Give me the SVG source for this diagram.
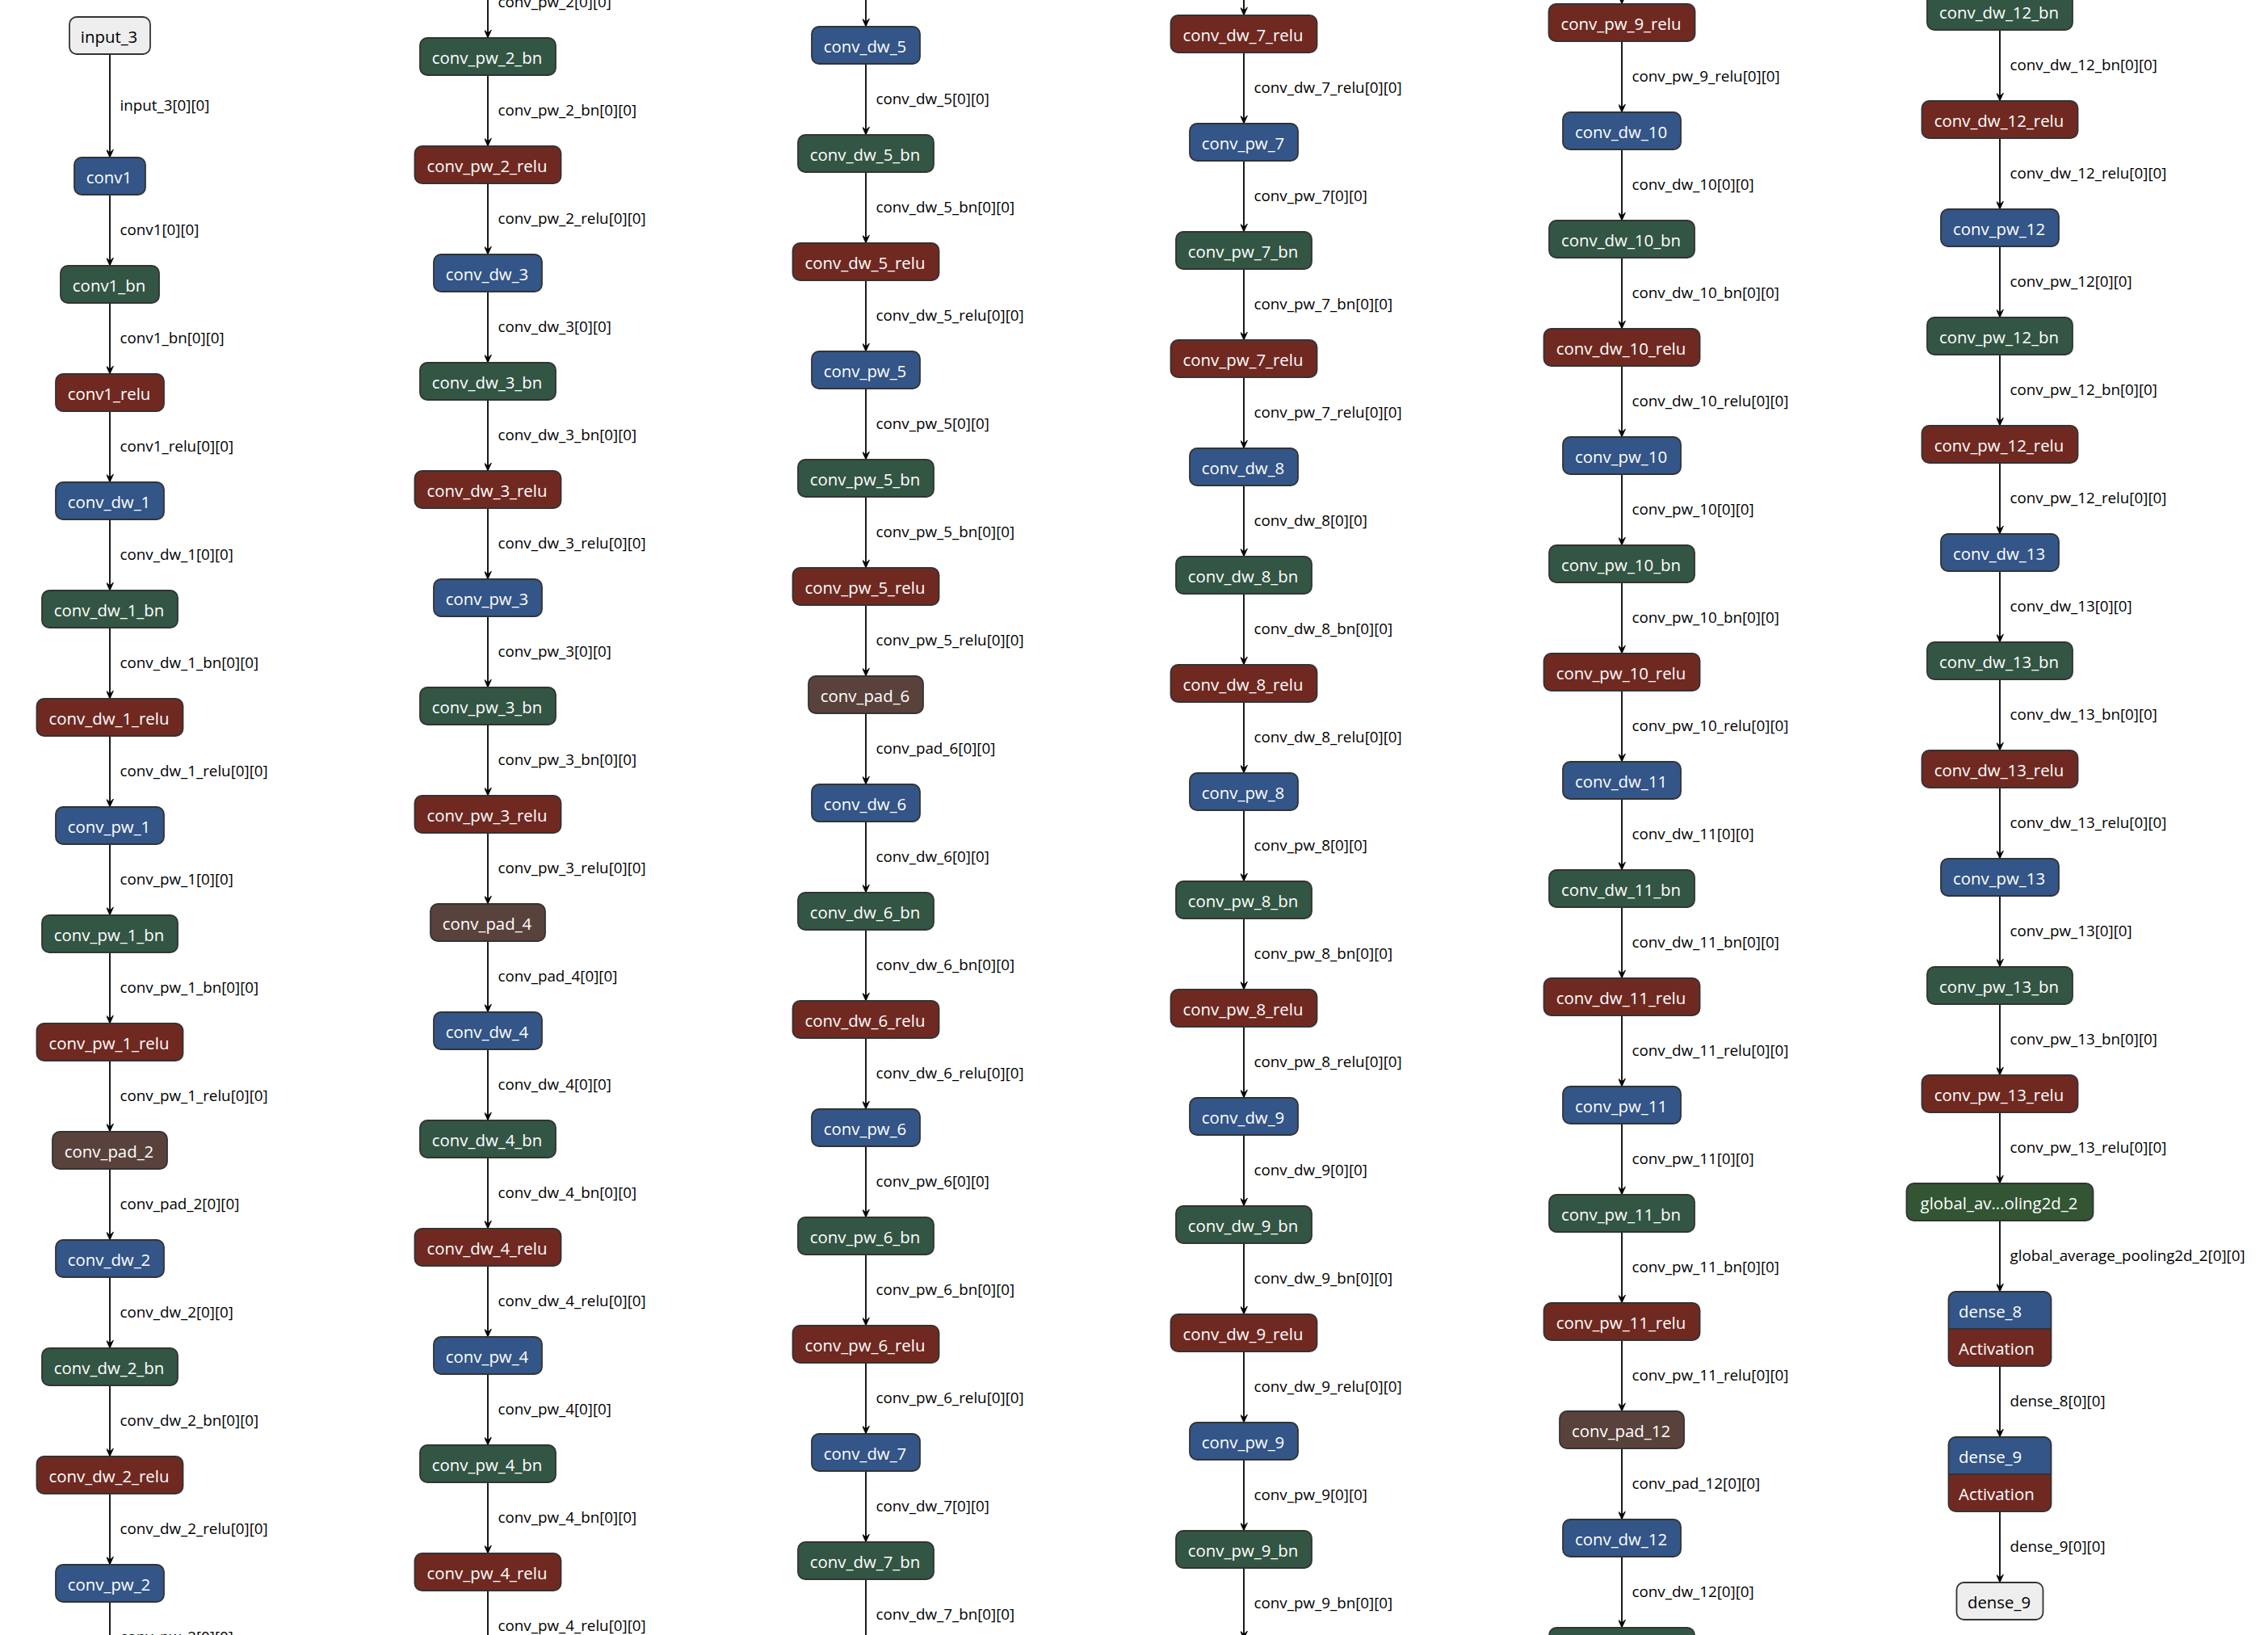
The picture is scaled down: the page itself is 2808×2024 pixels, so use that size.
<svg xmlns="http://www.w3.org/2000/svg" width="2808" height="2024" viewBox="0 0 2808 2024">
<style>
.bg{fill:#fff}
.e{stroke:#000;stroke-width:1.8;fill:none;marker-end:url(#ah)}
.el{font-family:"Open Sans","Noto Sans","Liberation Sans",sans-serif;font-size:18.8px;fill:#000}
.b{stroke:#333;stroke-width:1.8}
.bo{fill:none;stroke:#333;stroke-width:1.8}
.nt{font-family:"Open Sans","Noto Sans","Liberation Sans",sans-serif;font-size:20.4px;fill:#fff;text-anchor:middle}
.ntl{font-family:"Open Sans","Noto Sans","Liberation Sans",sans-serif;font-size:20.4px;fill:#fff}
.io-t{fill:#000}
.conv{fill:#335588}
.bn{fill:#335544}
.relu{fill:#702921}
.pad{fill:#59423b}
.pool{fill:#335533}
.io{fill:#eeeeee}
</style>
<defs>
<marker id="ah" markerUnits="userSpaceOnUse" viewBox="-10 -4.5 10 9" refX="0" refY="0" markerWidth="10" markerHeight="9" orient="auto">
<path d="M-10,-4.5 L0,0 L-10,4.5 L-6,0 Z" fill="#000" stroke="#000" stroke-width="0.8" stroke-linejoin="miter"/>
</marker>
</defs>
<rect class="bg" x="0" y="0" width="2808" height="2024"/>

<!-- connectors -->
<g id="edges">
<!-- column 1 -->
<line class="e" x1="136" y1="67" x2="136" y2="195"/><text class="el" x="148.5" y="137.3">input_3[0][0]</text>
<line class="e" x1="136" y1="241" x2="136" y2="329"/><text class="el" x="148.5" y="291.3">conv1[0][0]</text>
<line class="e" x1="136" y1="375" x2="136" y2="463"/><text class="el" x="148.5" y="425.3">conv1_bn[0][0]</text>
<line class="e" x1="136" y1="509" x2="136" y2="597"/><text class="el" x="148.5" y="559.3">conv1_relu[0][0]</text>
<line class="e" x1="136" y1="643" x2="136" y2="731"/><text class="el" x="148.5" y="693.3">conv_dw_1[0][0]</text>
<line class="e" x1="136" y1="777" x2="136" y2="865"/><text class="el" x="148.5" y="827.3">conv_dw_1_bn[0][0]</text>
<line class="e" x1="136" y1="911" x2="136" y2="999"/><text class="el" x="148.5" y="961.3">conv_dw_1_relu[0][0]</text>
<line class="e" x1="136" y1="1045" x2="136" y2="1133"/><text class="el" x="148.5" y="1095.3">conv_pw_1[0][0]</text>
<line class="e" x1="136" y1="1179" x2="136" y2="1267"/><text class="el" x="148.5" y="1229.3">conv_pw_1_bn[0][0]</text>
<line class="e" x1="136" y1="1313" x2="136" y2="1401"/><text class="el" x="148.5" y="1363.3">conv_pw_1_relu[0][0]</text>
<line class="e" x1="136" y1="1447" x2="136" y2="1535"/><text class="el" x="148.5" y="1497.3">conv_pad_2[0][0]</text>
<line class="e" x1="136" y1="1581" x2="136" y2="1669"/><text class="el" x="148.5" y="1631.3">conv_dw_2[0][0]</text>
<line class="e" x1="136" y1="1715" x2="136" y2="1803"/><text class="el" x="148.5" y="1765.3">conv_dw_2_bn[0][0]</text>
<line class="e" x1="136" y1="1849" x2="136" y2="1937"/><text class="el" x="148.5" y="1899.3">conv_dw_2_relu[0][0]</text>
<line class="e" x1="136" y1="1983" x2="136" y2="2071"/><text class="el" x="148.5" y="2033.3">conv_pw_2[0][0]</text>
<!-- column 2 -->
<line class="e" x1="604" y1="-41" x2="604" y2="47"/><text class="el" x="616.5" y="9.3">conv_pw_2[0][0]</text>
<line class="e" x1="604" y1="93" x2="604" y2="181"/><text class="el" x="616.5" y="143.3">conv_pw_2_bn[0][0]</text>
<line class="e" x1="604" y1="227" x2="604" y2="315"/><text class="el" x="616.5" y="277.3">conv_pw_2_relu[0][0]</text>
<line class="e" x1="604" y1="361" x2="604" y2="449"/><text class="el" x="616.5" y="411.3">conv_dw_3[0][0]</text>
<line class="e" x1="604" y1="495" x2="604" y2="583"/><text class="el" x="616.5" y="545.3">conv_dw_3_bn[0][0]</text>
<line class="e" x1="604" y1="629" x2="604" y2="717"/><text class="el" x="616.5" y="679.3">conv_dw_3_relu[0][0]</text>
<line class="e" x1="604" y1="763" x2="604" y2="851"/><text class="el" x="616.5" y="813.3">conv_pw_3[0][0]</text>
<line class="e" x1="604" y1="897" x2="604" y2="985"/><text class="el" x="616.5" y="947.3">conv_pw_3_bn[0][0]</text>
<line class="e" x1="604" y1="1031" x2="604" y2="1119"/><text class="el" x="616.5" y="1081.3">conv_pw_3_relu[0][0]</text>
<line class="e" x1="604" y1="1165" x2="604" y2="1253"/><text class="el" x="616.5" y="1215.3">conv_pad_4[0][0]</text>
<line class="e" x1="604" y1="1299" x2="604" y2="1387"/><text class="el" x="616.5" y="1349.3">conv_dw_4[0][0]</text>
<line class="e" x1="604" y1="1433" x2="604" y2="1521"/><text class="el" x="616.5" y="1483.3">conv_dw_4_bn[0][0]</text>
<line class="e" x1="604" y1="1567" x2="604" y2="1655"/><text class="el" x="616.5" y="1617.3">conv_dw_4_relu[0][0]</text>
<line class="e" x1="604" y1="1701" x2="604" y2="1789"/><text class="el" x="616.5" y="1751.3">conv_pw_4[0][0]</text>
<line class="e" x1="604" y1="1835" x2="604" y2="1923"/><text class="el" x="616.5" y="1885.3">conv_pw_4_bn[0][0]</text>
<line class="e" x1="604" y1="1969" x2="604" y2="2057"/><text class="el" x="616.5" y="2019.3">conv_pw_4_relu[0][0]</text>
<!-- column 3 -->
<line class="e" x1="1072" y1="-55" x2="1072" y2="33"/>
<line class="e" x1="1072" y1="79" x2="1072" y2="167"/><text class="el" x="1084.5" y="129.3">conv_dw_5[0][0]</text>
<line class="e" x1="1072" y1="213" x2="1072" y2="301"/><text class="el" x="1084.5" y="263.3">conv_dw_5_bn[0][0]</text>
<line class="e" x1="1072" y1="347" x2="1072" y2="435"/><text class="el" x="1084.5" y="397.3">conv_dw_5_relu[0][0]</text>
<line class="e" x1="1072" y1="481" x2="1072" y2="569"/><text class="el" x="1084.5" y="531.3">conv_pw_5[0][0]</text>
<line class="e" x1="1072" y1="615" x2="1072" y2="703"/><text class="el" x="1084.5" y="665.3">conv_pw_5_bn[0][0]</text>
<line class="e" x1="1072" y1="749" x2="1072" y2="837"/><text class="el" x="1084.5" y="799.3">conv_pw_5_relu[0][0]</text>
<line class="e" x1="1072" y1="883" x2="1072" y2="971"/><text class="el" x="1084.5" y="933.3">conv_pad_6[0][0]</text>
<line class="e" x1="1072" y1="1017" x2="1072" y2="1105"/><text class="el" x="1084.5" y="1067.3">conv_dw_6[0][0]</text>
<line class="e" x1="1072" y1="1151" x2="1072" y2="1239"/><text class="el" x="1084.5" y="1201.3">conv_dw_6_bn[0][0]</text>
<line class="e" x1="1072" y1="1285" x2="1072" y2="1373"/><text class="el" x="1084.5" y="1335.3">conv_dw_6_relu[0][0]</text>
<line class="e" x1="1072" y1="1419" x2="1072" y2="1507"/><text class="el" x="1084.5" y="1469.3">conv_pw_6[0][0]</text>
<line class="e" x1="1072" y1="1553" x2="1072" y2="1641"/><text class="el" x="1084.5" y="1603.3">conv_pw_6_bn[0][0]</text>
<line class="e" x1="1072" y1="1687" x2="1072" y2="1775"/><text class="el" x="1084.5" y="1737.3">conv_pw_6_relu[0][0]</text>
<line class="e" x1="1072" y1="1821" x2="1072" y2="1909"/><text class="el" x="1084.5" y="1871.3">conv_dw_7[0][0]</text>
<line class="e" x1="1072" y1="1955" x2="1072" y2="2043"/><text class="el" x="1084.5" y="2005.3">conv_dw_7_bn[0][0]</text>
<!-- column 4 -->
<line class="e" x1="1540" y1="-69" x2="1540" y2="19"/>
<line class="e" x1="1540" y1="65" x2="1540" y2="153"/><text class="el" x="1552.5" y="115.3">conv_dw_7_relu[0][0]</text>
<line class="e" x1="1540" y1="199" x2="1540" y2="287"/><text class="el" x="1552.5" y="249.3">conv_pw_7[0][0]</text>
<line class="e" x1="1540" y1="333" x2="1540" y2="421"/><text class="el" x="1552.5" y="383.3">conv_pw_7_bn[0][0]</text>
<line class="e" x1="1540" y1="467" x2="1540" y2="555"/><text class="el" x="1552.5" y="517.3">conv_pw_7_relu[0][0]</text>
<line class="e" x1="1540" y1="601" x2="1540" y2="689"/><text class="el" x="1552.5" y="651.3">conv_dw_8[0][0]</text>
<line class="e" x1="1540" y1="735" x2="1540" y2="823"/><text class="el" x="1552.5" y="785.3">conv_dw_8_bn[0][0]</text>
<line class="e" x1="1540" y1="869" x2="1540" y2="957"/><text class="el" x="1552.5" y="919.3">conv_dw_8_relu[0][0]</text>
<line class="e" x1="1540" y1="1003" x2="1540" y2="1091"/><text class="el" x="1552.5" y="1053.3">conv_pw_8[0][0]</text>
<line class="e" x1="1540" y1="1137" x2="1540" y2="1225"/><text class="el" x="1552.5" y="1187.3">conv_pw_8_bn[0][0]</text>
<line class="e" x1="1540" y1="1271" x2="1540" y2="1359"/><text class="el" x="1552.5" y="1321.3">conv_pw_8_relu[0][0]</text>
<line class="e" x1="1540" y1="1405" x2="1540" y2="1493"/><text class="el" x="1552.5" y="1455.3">conv_dw_9[0][0]</text>
<line class="e" x1="1540" y1="1539" x2="1540" y2="1627"/><text class="el" x="1552.5" y="1589.3">conv_dw_9_bn[0][0]</text>
<line class="e" x1="1540" y1="1673" x2="1540" y2="1761"/><text class="el" x="1552.5" y="1723.3">conv_dw_9_relu[0][0]</text>
<line class="e" x1="1540" y1="1807" x2="1540" y2="1895"/><text class="el" x="1552.5" y="1857.3">conv_pw_9[0][0]</text>
<line class="e" x1="1540" y1="1941" x2="1540" y2="2029"/><text class="el" x="1552.5" y="1991.3">conv_pw_9_bn[0][0]</text>
<!-- column 5 -->
<line class="e" x1="2008" y1="-83" x2="2008" y2="5"/>
<line class="e" x1="2008" y1="51" x2="2008" y2="139"/><text class="el" x="2020.5" y="101.3">conv_pw_9_relu[0][0]</text>
<line class="e" x1="2008" y1="185" x2="2008" y2="273"/><text class="el" x="2020.5" y="235.3">conv_dw_10[0][0]</text>
<line class="e" x1="2008" y1="319" x2="2008" y2="407"/><text class="el" x="2020.5" y="369.3">conv_dw_10_bn[0][0]</text>
<line class="e" x1="2008" y1="453" x2="2008" y2="541"/><text class="el" x="2020.5" y="503.3">conv_dw_10_relu[0][0]</text>
<line class="e" x1="2008" y1="587" x2="2008" y2="675"/><text class="el" x="2020.5" y="637.3">conv_pw_10[0][0]</text>
<line class="e" x1="2008" y1="721" x2="2008" y2="809"/><text class="el" x="2020.5" y="771.3">conv_pw_10_bn[0][0]</text>
<line class="e" x1="2008" y1="855" x2="2008" y2="943"/><text class="el" x="2020.5" y="905.3">conv_pw_10_relu[0][0]</text>
<line class="e" x1="2008" y1="989" x2="2008" y2="1077"/><text class="el" x="2020.5" y="1039.3">conv_dw_11[0][0]</text>
<line class="e" x1="2008" y1="1123" x2="2008" y2="1211"/><text class="el" x="2020.5" y="1173.3">conv_dw_11_bn[0][0]</text>
<line class="e" x1="2008" y1="1257" x2="2008" y2="1345"/><text class="el" x="2020.5" y="1307.3">conv_dw_11_relu[0][0]</text>
<line class="e" x1="2008" y1="1391" x2="2008" y2="1479"/><text class="el" x="2020.5" y="1441.3">conv_pw_11[0][0]</text>
<line class="e" x1="2008" y1="1525" x2="2008" y2="1613"/><text class="el" x="2020.5" y="1575.3">conv_pw_11_bn[0][0]</text>
<line class="e" x1="2008" y1="1659" x2="2008" y2="1747"/><text class="el" x="2020.5" y="1709.3">conv_pw_11_relu[0][0]</text>
<line class="e" x1="2008" y1="1793" x2="2008" y2="1881"/><text class="el" x="2020.5" y="1843.3">conv_pad_12[0][0]</text>
<line class="e" x1="2008" y1="1927" x2="2008" y2="2015"/><text class="el" x="2020.5" y="1977.3">conv_dw_12[0][0]</text>
<!-- column 6 -->
<line class="e" x1="2476" y1="37" x2="2476" y2="125"/><text class="el" x="2488.5" y="87.3">conv_dw_12_bn[0][0]</text>
<line class="e" x1="2476" y1="171" x2="2476" y2="259"/><text class="el" x="2488.5" y="221.3">conv_dw_12_relu[0][0]</text>
<line class="e" x1="2476" y1="305" x2="2476" y2="393"/><text class="el" x="2488.5" y="355.3">conv_pw_12[0][0]</text>
<line class="e" x1="2476" y1="439" x2="2476" y2="527"/><text class="el" x="2488.5" y="489.3">conv_pw_12_bn[0][0]</text>
<line class="e" x1="2476" y1="573" x2="2476" y2="661"/><text class="el" x="2488.5" y="623.3">conv_pw_12_relu[0][0]</text>
<line class="e" x1="2476" y1="707" x2="2476" y2="795"/><text class="el" x="2488.5" y="757.3">conv_dw_13[0][0]</text>
<line class="e" x1="2476" y1="841" x2="2476" y2="929"/><text class="el" x="2488.5" y="891.3">conv_dw_13_bn[0][0]</text>
<line class="e" x1="2476" y1="975" x2="2476" y2="1063"/><text class="el" x="2488.5" y="1025.3">conv_dw_13_relu[0][0]</text>
<line class="e" x1="2476" y1="1109" x2="2476" y2="1197"/><text class="el" x="2488.5" y="1159.3">conv_pw_13[0][0]</text>
<line class="e" x1="2476" y1="1243" x2="2476" y2="1331"/><text class="el" x="2488.5" y="1293.3">conv_pw_13_bn[0][0]</text>
<line class="e" x1="2476" y1="1377" x2="2476" y2="1465"/><text class="el" x="2488.5" y="1427.3">conv_pw_13_relu[0][0]</text>
<line class="e" x1="2476" y1="1511" x2="2476" y2="1599"/><text class="el" x="2488.5" y="1561.3">global_average_pooling2d_2[0][0]</text>
<line class="e" x1="2476" y1="1691" x2="2476" y2="1779"/><text class="el" x="2488.5" y="1741.3">dense_8[0][0]</text>
<line class="e" x1="2476" y1="1871" x2="2476" y2="1959"/><text class="el" x="2488.5" y="1921.3">dense_9[0][0]</text>
</g>

<!-- column 1 nodes -->
<g id="input_3"><rect class="b io" x="86" y="21" width="100" height="46" rx="9"/><text class="nt io-t" x="135" y="52.7">input_3</text></g>
<g id="conv1"><rect class="b conv" x="92" y="195" width="88" height="46" rx="9"/><text class="nt" x="135" y="226.7">conv1</text></g>
<g id="conv1_bn"><rect class="b bn" x="75" y="329" width="122" height="46" rx="9"/><text class="nt" x="135" y="360.7">conv1_bn</text></g>
<g id="conv1_relu"><rect class="b relu" x="69" y="463" width="134" height="46" rx="9"/><text class="nt" x="135" y="494.7">conv1_relu</text></g>
<g id="conv_dw_1"><rect class="b conv" x="69" y="597" width="134" height="46" rx="9"/><text class="nt" x="135" y="628.7">conv_dw_1</text></g>
<g id="conv_dw_1_bn"><rect class="b bn" x="52" y="731" width="168" height="46" rx="9"/><text class="nt" x="135" y="762.7">conv_dw_1_bn</text></g>
<g id="conv_dw_1_relu"><rect class="b relu" x="45.5" y="865" width="181" height="46" rx="9"/><text class="nt" x="135" y="896.7">conv_dw_1_relu</text></g>
<g id="conv_pw_1"><rect class="b conv" x="69" y="999" width="134" height="46" rx="9"/><text class="nt" x="135" y="1030.7">conv_pw_1</text></g>
<g id="conv_pw_1_bn"><rect class="b bn" x="52" y="1133" width="168" height="46" rx="9"/><text class="nt" x="135" y="1164.7">conv_pw_1_bn</text></g>
<g id="conv_pw_1_relu"><rect class="b relu" x="45.5" y="1267" width="181" height="46" rx="9"/><text class="nt" x="135" y="1298.7">conv_pw_1_relu</text></g>
<g id="conv_pad_2"><rect class="b pad" x="65" y="1401" width="142" height="46" rx="9"/><text class="nt" x="135" y="1432.7">conv_pad_2</text></g>
<g id="conv_dw_2"><rect class="b conv" x="69" y="1535" width="134" height="46" rx="9"/><text class="nt" x="135" y="1566.7">conv_dw_2</text></g>
<g id="conv_dw_2_bn"><rect class="b bn" x="52" y="1669" width="168" height="46" rx="9"/><text class="nt" x="135" y="1700.7">conv_dw_2_bn</text></g>
<g id="conv_dw_2_relu"><rect class="b relu" x="45.5" y="1803" width="181" height="46" rx="9"/><text class="nt" x="135" y="1834.7">conv_dw_2_relu</text></g>
<g id="conv_pw_2"><rect class="b conv" x="69" y="1937" width="134" height="46" rx="9"/><text class="nt" x="135" y="1968.7">conv_pw_2</text></g>

<!-- column 2 nodes -->
<g id="conv_pw_2_bn"><rect class="b bn" x="520" y="47" width="168" height="46" rx="9"/><text class="nt" x="603" y="78.7">conv_pw_2_bn</text></g>
<g id="conv_pw_2_relu"><rect class="b relu" x="513.5" y="181" width="181" height="46" rx="9"/><text class="nt" x="603" y="212.7">conv_pw_2_relu</text></g>
<g id="conv_dw_3"><rect class="b conv" x="537" y="315" width="134" height="46" rx="9"/><text class="nt" x="603" y="346.7">conv_dw_3</text></g>
<g id="conv_dw_3_bn"><rect class="b bn" x="520" y="449" width="168" height="46" rx="9"/><text class="nt" x="603" y="480.7">conv_dw_3_bn</text></g>
<g id="conv_dw_3_relu"><rect class="b relu" x="513.5" y="583" width="181" height="46" rx="9"/><text class="nt" x="603" y="614.7">conv_dw_3_relu</text></g>
<g id="conv_pw_3"><rect class="b conv" x="537" y="717" width="134" height="46" rx="9"/><text class="nt" x="603" y="748.7">conv_pw_3</text></g>
<g id="conv_pw_3_bn"><rect class="b bn" x="520" y="851" width="168" height="46" rx="9"/><text class="nt" x="603" y="882.7">conv_pw_3_bn</text></g>
<g id="conv_pw_3_relu"><rect class="b relu" x="513.5" y="985" width="181" height="46" rx="9"/><text class="nt" x="603" y="1016.7">conv_pw_3_relu</text></g>
<g id="conv_pad_4"><rect class="b pad" x="533" y="1119" width="142" height="46" rx="9"/><text class="nt" x="603" y="1150.7">conv_pad_4</text></g>
<g id="conv_dw_4"><rect class="b conv" x="537" y="1253" width="134" height="46" rx="9"/><text class="nt" x="603" y="1284.7">conv_dw_4</text></g>
<g id="conv_dw_4_bn"><rect class="b bn" x="520" y="1387" width="168" height="46" rx="9"/><text class="nt" x="603" y="1418.7">conv_dw_4_bn</text></g>
<g id="conv_dw_4_relu"><rect class="b relu" x="513.5" y="1521" width="181" height="46" rx="9"/><text class="nt" x="603" y="1552.7">conv_dw_4_relu</text></g>
<g id="conv_pw_4"><rect class="b conv" x="537" y="1655" width="134" height="46" rx="9"/><text class="nt" x="603" y="1686.7">conv_pw_4</text></g>
<g id="conv_pw_4_bn"><rect class="b bn" x="520" y="1789" width="168" height="46" rx="9"/><text class="nt" x="603" y="1820.7">conv_pw_4_bn</text></g>
<g id="conv_pw_4_relu"><rect class="b relu" x="513.5" y="1923" width="181" height="46" rx="9"/><text class="nt" x="603" y="1954.7">conv_pw_4_relu</text></g>

<!-- column 3 nodes -->
<g id="conv_dw_5"><rect class="b conv" x="1005" y="33" width="134" height="46" rx="9"/><text class="nt" x="1071" y="64.7">conv_dw_5</text></g>
<g id="conv_dw_5_bn"><rect class="b bn" x="988" y="167" width="168" height="46" rx="9"/><text class="nt" x="1071" y="198.7">conv_dw_5_bn</text></g>
<g id="conv_dw_5_relu"><rect class="b relu" x="981.5" y="301" width="181" height="46" rx="9"/><text class="nt" x="1071" y="332.7">conv_dw_5_relu</text></g>
<g id="conv_pw_5"><rect class="b conv" x="1005" y="435" width="134" height="46" rx="9"/><text class="nt" x="1071" y="466.7">conv_pw_5</text></g>
<g id="conv_pw_5_bn"><rect class="b bn" x="988" y="569" width="168" height="46" rx="9"/><text class="nt" x="1071" y="600.7">conv_pw_5_bn</text></g>
<g id="conv_pw_5_relu"><rect class="b relu" x="981.5" y="703" width="181" height="46" rx="9"/><text class="nt" x="1071" y="734.7">conv_pw_5_relu</text></g>
<g id="conv_pad_6"><rect class="b pad" x="1001" y="837" width="142" height="46" rx="9"/><text class="nt" x="1071" y="868.7">conv_pad_6</text></g>
<g id="conv_dw_6"><rect class="b conv" x="1005" y="971" width="134" height="46" rx="9"/><text class="nt" x="1071" y="1002.7">conv_dw_6</text></g>
<g id="conv_dw_6_bn"><rect class="b bn" x="988" y="1105" width="168" height="46" rx="9"/><text class="nt" x="1071" y="1136.7">conv_dw_6_bn</text></g>
<g id="conv_dw_6_relu"><rect class="b relu" x="981.5" y="1239" width="181" height="46" rx="9"/><text class="nt" x="1071" y="1270.7">conv_dw_6_relu</text></g>
<g id="conv_pw_6"><rect class="b conv" x="1005" y="1373" width="134" height="46" rx="9"/><text class="nt" x="1071" y="1404.7">conv_pw_6</text></g>
<g id="conv_pw_6_bn"><rect class="b bn" x="988" y="1507" width="168" height="46" rx="9"/><text class="nt" x="1071" y="1538.7">conv_pw_6_bn</text></g>
<g id="conv_pw_6_relu"><rect class="b relu" x="981.5" y="1641" width="181" height="46" rx="9"/><text class="nt" x="1071" y="1672.7">conv_pw_6_relu</text></g>
<g id="conv_dw_7"><rect class="b conv" x="1005" y="1775" width="134" height="46" rx="9"/><text class="nt" x="1071" y="1806.7">conv_dw_7</text></g>
<g id="conv_dw_7_bn"><rect class="b bn" x="988" y="1909" width="168" height="46" rx="9"/><text class="nt" x="1071" y="1940.7">conv_dw_7_bn</text></g>

<!-- column 4 nodes -->
<g id="conv_dw_7_relu"><rect class="b relu" x="1449.5" y="19" width="181" height="46" rx="9"/><text class="nt" x="1539" y="50.7">conv_dw_7_relu</text></g>
<g id="conv_pw_7"><rect class="b conv" x="1473" y="153" width="134" height="46" rx="9"/><text class="nt" x="1539" y="184.7">conv_pw_7</text></g>
<g id="conv_pw_7_bn"><rect class="b bn" x="1456" y="287" width="168" height="46" rx="9"/><text class="nt" x="1539" y="318.7">conv_pw_7_bn</text></g>
<g id="conv_pw_7_relu"><rect class="b relu" x="1449.5" y="421" width="181" height="46" rx="9"/><text class="nt" x="1539" y="452.7">conv_pw_7_relu</text></g>
<g id="conv_dw_8"><rect class="b conv" x="1473" y="555" width="134" height="46" rx="9"/><text class="nt" x="1539" y="586.7">conv_dw_8</text></g>
<g id="conv_dw_8_bn"><rect class="b bn" x="1456" y="689" width="168" height="46" rx="9"/><text class="nt" x="1539" y="720.7">conv_dw_8_bn</text></g>
<g id="conv_dw_8_relu"><rect class="b relu" x="1449.5" y="823" width="181" height="46" rx="9"/><text class="nt" x="1539" y="854.7">conv_dw_8_relu</text></g>
<g id="conv_pw_8"><rect class="b conv" x="1473" y="957" width="134" height="46" rx="9"/><text class="nt" x="1539" y="988.7">conv_pw_8</text></g>
<g id="conv_pw_8_bn"><rect class="b bn" x="1456" y="1091" width="168" height="46" rx="9"/><text class="nt" x="1539" y="1122.7">conv_pw_8_bn</text></g>
<g id="conv_pw_8_relu"><rect class="b relu" x="1449.5" y="1225" width="181" height="46" rx="9"/><text class="nt" x="1539" y="1256.7">conv_pw_8_relu</text></g>
<g id="conv_dw_9"><rect class="b conv" x="1473" y="1359" width="134" height="46" rx="9"/><text class="nt" x="1539" y="1390.7">conv_dw_9</text></g>
<g id="conv_dw_9_bn"><rect class="b bn" x="1456" y="1493" width="168" height="46" rx="9"/><text class="nt" x="1539" y="1524.7">conv_dw_9_bn</text></g>
<g id="conv_dw_9_relu"><rect class="b relu" x="1449.5" y="1627" width="181" height="46" rx="9"/><text class="nt" x="1539" y="1658.7">conv_dw_9_relu</text></g>
<g id="conv_pw_9"><rect class="b conv" x="1473" y="1761" width="134" height="46" rx="9"/><text class="nt" x="1539" y="1792.7">conv_pw_9</text></g>
<g id="conv_pw_9_bn"><rect class="b bn" x="1456" y="1895" width="168" height="46" rx="9"/><text class="nt" x="1539" y="1926.7">conv_pw_9_bn</text></g>

<!-- column 5 nodes -->
<g id="conv_pw_9_relu"><rect class="b relu" x="1917.5" y="5" width="181" height="46" rx="9"/><text class="nt" x="2007" y="36.7">conv_pw_9_relu</text></g>
<g id="conv_dw_10"><rect class="b conv" x="1935" y="139" width="146" height="46" rx="9"/><text class="nt" x="2007" y="170.7">conv_dw_10</text></g>
<g id="conv_dw_10_bn"><rect class="b bn" x="1918" y="273" width="180" height="46" rx="9"/><text class="nt" x="2007" y="304.7">conv_dw_10_bn</text></g>
<g id="conv_dw_10_relu"><rect class="b relu" x="1911.5" y="407" width="193" height="46" rx="9"/><text class="nt" x="2007" y="438.7">conv_dw_10_relu</text></g>
<g id="conv_pw_10"><rect class="b conv" x="1935" y="541" width="146" height="46" rx="9"/><text class="nt" x="2007" y="572.7">conv_pw_10</text></g>
<g id="conv_pw_10_bn"><rect class="b bn" x="1918" y="675" width="180" height="46" rx="9"/><text class="nt" x="2007" y="706.7">conv_pw_10_bn</text></g>
<g id="conv_pw_10_relu"><rect class="b relu" x="1911.5" y="809" width="193" height="46" rx="9"/><text class="nt" x="2007" y="840.7">conv_pw_10_relu</text></g>
<g id="conv_dw_11"><rect class="b conv" x="1935" y="943" width="146" height="46" rx="9"/><text class="nt" x="2007" y="974.7">conv_dw_11</text></g>
<g id="conv_dw_11_bn"><rect class="b bn" x="1918" y="1077" width="180" height="46" rx="9"/><text class="nt" x="2007" y="1108.7">conv_dw_11_bn</text></g>
<g id="conv_dw_11_relu"><rect class="b relu" x="1911.5" y="1211" width="193" height="46" rx="9"/><text class="nt" x="2007" y="1242.7">conv_dw_11_relu</text></g>
<g id="conv_pw_11"><rect class="b conv" x="1935" y="1345" width="146" height="46" rx="9"/><text class="nt" x="2007" y="1376.7">conv_pw_11</text></g>
<g id="conv_pw_11_bn"><rect class="b bn" x="1918" y="1479" width="180" height="46" rx="9"/><text class="nt" x="2007" y="1510.7">conv_pw_11_bn</text></g>
<g id="conv_pw_11_relu"><rect class="b relu" x="1911.5" y="1613" width="193" height="46" rx="9"/><text class="nt" x="2007" y="1644.7">conv_pw_11_relu</text></g>
<g id="conv_pad_12"><rect class="b pad" x="1931" y="1747" width="154" height="46" rx="9"/><text class="nt" x="2007" y="1778.7">conv_pad_12</text></g>
<g id="conv_dw_12"><rect class="b conv" x="1935" y="1881" width="146" height="46" rx="9"/><text class="nt" x="2007" y="1912.7">conv_dw_12</text></g>
<!-- top edge of the batch-norm box that continues at the head of the next column -->
<g id="conv_dw_12_bn_cont"><rect class="b bn" x="1918" y="2015" width="180" height="46" rx="9"/></g>

<!-- column 6 nodes -->
<g id="conv_dw_12_bn"><rect class="b bn" x="2386" y="-9" width="180" height="46" rx="9"/><text class="nt" x="2475" y="22.7">conv_dw_12_bn</text></g>
<g id="conv_dw_12_relu"><rect class="b relu" x="2379.5" y="125" width="193" height="46" rx="9"/><text class="nt" x="2475" y="156.7">conv_dw_12_relu</text></g>
<g id="conv_pw_12"><rect class="b conv" x="2403" y="259" width="146" height="46" rx="9"/><text class="nt" x="2475" y="290.7">conv_pw_12</text></g>
<g id="conv_pw_12_bn"><rect class="b bn" x="2386" y="393" width="180" height="46" rx="9"/><text class="nt" x="2475" y="424.7">conv_pw_12_bn</text></g>
<g id="conv_pw_12_relu"><rect class="b relu" x="2379.5" y="527" width="193" height="46" rx="9"/><text class="nt" x="2475" y="558.7">conv_pw_12_relu</text></g>
<g id="conv_dw_13"><rect class="b conv" x="2403" y="661" width="146" height="46" rx="9"/><text class="nt" x="2475" y="692.7">conv_dw_13</text></g>
<g id="conv_dw_13_bn"><rect class="b bn" x="2386" y="795" width="180" height="46" rx="9"/><text class="nt" x="2475" y="826.7">conv_dw_13_bn</text></g>
<g id="conv_dw_13_relu"><rect class="b relu" x="2379.5" y="929" width="193" height="46" rx="9"/><text class="nt" x="2475" y="960.7">conv_dw_13_relu</text></g>
<g id="conv_pw_13"><rect class="b conv" x="2403" y="1063" width="146" height="46" rx="9"/><text class="nt" x="2475" y="1094.7">conv_pw_13</text></g>
<g id="conv_pw_13_bn"><rect class="b bn" x="2386" y="1197" width="180" height="46" rx="9"/><text class="nt" x="2475" y="1228.7">conv_pw_13_bn</text></g>
<g id="conv_pw_13_relu"><rect class="b relu" x="2379.5" y="1331" width="193" height="46" rx="9"/><text class="nt" x="2475" y="1362.7">conv_pw_13_relu</text></g>
<g id="global_average_pooling2d_2"><rect class="b pool" x="2360.5" y="1465" width="231" height="46" rx="9"/><text class="nt" x="2475" y="1496.7">global_av...oling2d_2</text></g>
<g id="dense_8">
<path class="conv" d="M2412.5,1645 V1608 A9,9 0 0 1 2421.5,1599 H2530.5 A9,9 0 0 1 2539.5,1608 V1645 Z"/>
<path class="relu" d="M2412.5,1645 H2539.5 V1682 A9,9 0 0 1 2530.5,1691 H2421.5 A9,9 0 0 1 2412.5,1682 Z"/>
<line class="bo" x1="2412.5" y1="1645" x2="2539.5" y2="1645"/>
<rect class="bo" x="2412.5" y="1599" width="127" height="92" rx="9"/>
<text class="ntl" x="2425" y="1630.7">dense_8</text>
<text class="ntl" x="2425" y="1676.7">Activation</text>
</g>
<g id="dense_9">
<path class="conv" d="M2412.5,1825 V1788 A9,9 0 0 1 2421.5,1779 H2530.5 A9,9 0 0 1 2539.5,1788 V1825 Z"/>
<path class="relu" d="M2412.5,1825 H2539.5 V1862 A9,9 0 0 1 2530.5,1871 H2421.5 A9,9 0 0 1 2412.5,1862 Z"/>
<line class="bo" x1="2412.5" y1="1825" x2="2539.5" y2="1825"/>
<rect class="bo" x="2412.5" y="1779" width="127" height="92" rx="9"/>
<text class="ntl" x="2425" y="1810.7">dense_9</text>
<text class="ntl" x="2425" y="1856.7">Activation</text>
</g>
<g id="dense_9_output"><rect class="b io" x="2422.5" y="1959" width="107" height="46" rx="9"/><text class="nt io-t" x="2475" y="1990.7">dense_9</text></g>
</svg>
